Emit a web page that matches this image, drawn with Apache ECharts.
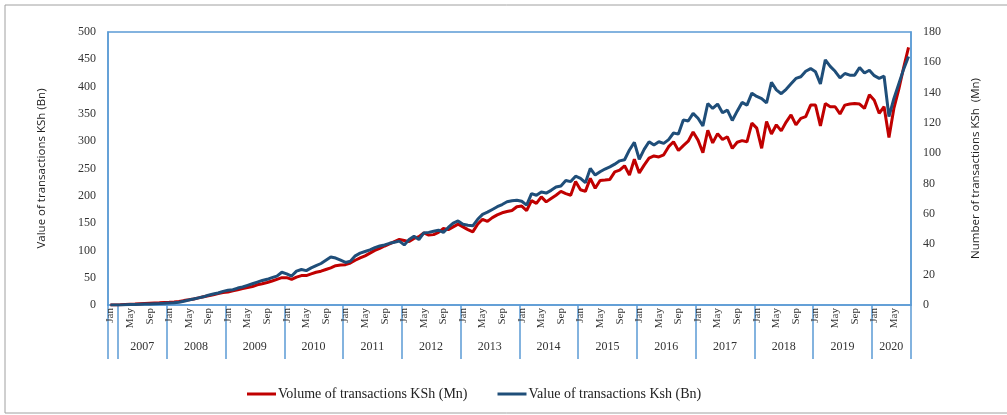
<!DOCTYPE html>
<html>
<head>
<meta charset="utf-8">
<script src="https://cdn.jsdelivr.net/npm/echarts@6/dist/echarts.min.js"></script>
<style>
html, body { margin: 0; padding: 0; background: #fff; }
#main { width: 1007px; height: 415px; }
</style>
</head>
<body>
<div id="main"></div>
<script>
// month names, data runs Jan 2007 - Aug 2020
var monthNames = ['Jan', 'Feb', 'Mar', 'Apr', 'May', 'Jun', 'Jul', 'Aug', 'Sep', 'Oct', 'Nov', 'Dec'];
var firstYear = 2007;
var lastYear = 2020;
var lastMonth = 8;

// Value of transactions KSh (Bn) - left axis
var valueBn = [
    0, 0, 0.2, 0.5, 0.8, 1.1, 1.4, 1.7, 2, 2.3, 2.6, 3,
    3.5, 4, 5, 7, 9, 11, 13, 15, 18, 20, 22, 25,
    27, 28, 31, 33, 36, 39, 42, 45, 47, 50, 53, 60,
    57, 53, 62, 65, 63, 68, 72, 76, 82, 88, 86, 82,
    78, 80, 90, 95, 98, 101, 105, 108, 110, 113, 115, 117,
    110, 120, 126, 120, 132, 133, 135, 137, 133, 142, 150, 154,
    148, 146, 145, 157, 166, 170, 175, 180, 184, 189, 191, 192,
    190, 183, 204, 201, 207, 205, 210, 216, 218, 228, 226, 236,
    232, 224, 250, 238, 244, 249, 253, 258, 264, 266, 284, 298,
    267, 285, 299, 293, 299, 296, 303, 315, 313, 339, 337, 351,
    342, 328, 369, 360, 368, 352, 357, 338, 355, 371, 366, 388,
    382, 378, 370, 408, 394, 387, 395, 405, 415, 418, 428, 433,
    427, 405, 449, 437, 428, 416, 424, 421, 421, 435, 425, 430,
    420, 415, 419, 345, 378, 405, 432, 455
];

// Volume of transactions KSh (Mn) - right axis
var volumeMn = [
    0, 0, 0.1, 0.3, 0.5, 0.6, 0.8, 1.0, 1.2, 1.4, 1.5, 1.7,
    1.8, 2.0, 2.3, 2.9, 3.4, 4.0, 4.7, 5.4, 6.1, 6.8, 7.6, 8.3,
    8.6, 9.4, 10.1, 10.8, 11.5, 12.2, 13.3, 14.0, 14.8, 15.8, 16.9, 18.0,
    18.0, 16.9, 18.4, 19.4, 19.4, 20.5, 21.6, 22.3, 23.4, 24.5, 25.9, 26.3,
    26.6, 27.7, 29.5, 31.0, 32.4, 34.2, 36.0, 37.4, 38.9, 40.3, 41.8, 43.2,
    42.5, 41.8, 43.9, 45.0, 47.5, 46.1, 46.4, 47.9, 50.4, 49.7, 51.5, 53.3,
    51.5, 49.7, 48.2, 53.3, 56.5, 55.1, 57.6, 59.4, 60.8, 61.6, 62.3, 64.8,
    65.2, 62.3, 68.8, 67.0, 71.3, 68.0, 70.2, 72.4, 74.9, 73.4, 72.4, 81.4,
    76.0, 74.9, 83.5, 77.0, 82.1, 82.4, 82.8, 87.8, 88.9, 91.8, 85.7, 96.1,
    87.1, 92.2, 96.8, 98.3, 97.6, 99.0, 104.4, 107.6, 101.9, 105.1, 108.0, 114.1,
    108.7, 100.4, 115.2, 106.9, 113.0, 109.1, 110.9, 103.3, 107.3, 108.4, 107.6, 119.9,
    116.6, 103.3, 121.0, 112.7, 118.8, 114.8, 120.6, 125.3, 118.8, 123.1, 124.2, 131.8,
    131.8, 118.1, 132.8, 130.7, 130.7, 126.0, 131.8, 132.5, 132.8, 132.5, 129.6, 138.6,
    135.0, 126.4, 130.7, 110.5, 129.6, 142.2, 156.6, 169.9
];

var leftTicks = { min: 0, max: 500, interval: 50 };
var rightTicks = { min: 0, max: 180, interval: 20 };

// 类目：每个月一项，年份单独存一份
var categories = [];
var yearOfCat = [];
for (var y = firstYear; y <= lastYear; y++) {
    var upto = (y == lastYear) ? lastMonth : 12;
    for (var m = 0; m < upto; m++) {
        categories.push(monthNames[m]);
        yearOfCat.push(String(y));
    }
}

// 年份分隔线的位置（2007年的Jan/Feb单独一格）
function isGroupStart(index) {
    return index % 12 === 0 || index === 2 || index === categories.length;
}

// 年份标签放在每组中间
function isYearCenter(index) {
    if (index === 7) return true;
    if (index < 12) return false;
    if (index >= 156) return index === 160;
    return index % 12 === 6;
}

var serif = '"Liberation Serif", "DejaVu Serif", serif';
var sans = '"Open Sans", "Liberation Sans", sans-serif';
var frameBlue = '#5B9BD5';

var option = {
    animation: false,
    backgroundColor: '#fff',
    graphic: [{
        type: 'rect',
        shape: { x: 5, y: 5, width: 1010, height: 408 },
        style: { fill: 'none', stroke: '#a0a0a0', lineWidth: 1 },
        silent: true
    }],
    grid: {
        left: 108,
        right: 96,
        top: 32,
        bottom: 110,
        show: true,
        borderColor: frameBlue,
        borderWidth: 1.5
    },
    legend: {
        bottom: 9,
        left: 242,
        data: ['Volume of transactions KSh (Mn)', 'Value of transactions Ksh (Bn)'],
        icon: 'rect',
        itemWidth: 29,
        itemHeight: 3,
        itemGap: 30,
        textStyle: { fontFamily: serif, fontSize: 14, color: '#222', padding: [0, 0, 0, -3] }
    },
    xAxis: [{
        type: 'category',
        data: categories,
        boundaryGap: true,
        axisLine: { lineStyle: { color: frameBlue, width: 1.5 } },
        axisTick: {
            show: true,
            interval: function (index) { return isGroupStart(index); },
            length: 54,
            lineStyle: { color: frameBlue, width: 1.5 }
        },
        axisLabel: {
            interval: function (index) {
                var mm = index % 12;
                return mm === 0 || mm === 4 || mm === 8;
            },
            rotate: 90,
            margin: 3,
            fontFamily: serif,
            fontSize: 11,
            color: '#333'
        },
        splitLine: { show: false }
    }, {
        type: 'category',
        data: yearOfCat,
        position: 'bottom',
        boundaryGap: true,
        axisLine: { show: false },
        axisTick: { show: false },
        axisLabel: {
            interval: function (index) { return isYearCenter(index); },
            margin: 36,
            padding: [0, 5, 0, 0],
            fontFamily: serif,
            fontSize: 12,
            color: '#333'
        },
        splitLine: { show: false }
    }],
    yAxis: [{
        type: 'value',
        min: leftTicks.min,
        max: leftTicks.max,
        interval: leftTicks.interval,
        name: 'Value of transactions KSh (Bn)',
        nameLocation: 'middle',
        nameRotate: 90,
        nameGap: 60,
        nameTextStyle: { fontFamily: sans, fontSize: 11.5, color: '#222' },
        axisLine: { show: true, lineStyle: { color: frameBlue, width: 1.5 } },
        axisTick: { show: false },
        axisLabel: { fontFamily: serif, fontSize: 12, color: '#333', margin: 12 },
        splitLine: { show: false }
    }, {
        type: 'value',
        min: rightTicks.min,
        max: rightTicks.max,
        interval: rightTicks.interval,
        position: 'right',
        name: 'Number of transactions KSh  (Mn)',
        nameLocation: 'middle',
        nameRotate: 90,
        nameGap: 59,
        nameTextStyle: { fontFamily: sans, fontSize: 11.5, color: '#222' },
        axisLine: { show: true, lineStyle: { color: frameBlue, width: 1.5 } },
        axisTick: { show: false },
        axisLabel: { fontFamily: serif, fontSize: 12, color: '#333', margin: 12 },
        splitLine: { show: false }
    }],
    series: [{
        name: 'Volume of transactions KSh (Mn)',
        type: 'line',
        yAxisIndex: 1,
        data: volumeMn,
        symbol: 'none',
        lineStyle: { color: '#C00000', width: 3 },
        itemStyle: { color: '#C00000' }
    }, {
        name: 'Value of transactions Ksh (Bn)',
        type: 'line',
        yAxisIndex: 0,
        data: valueBn,
        symbol: 'none',
        lineStyle: { color: '#1F4E79', width: 3 },
        itemStyle: { color: '#1F4E79' }
    }]
};

var myChart = echarts.init(document.getElementById('main'), null, { renderer: 'canvas' });
myChart.setOption(option);
</script>
</body>
</html>
